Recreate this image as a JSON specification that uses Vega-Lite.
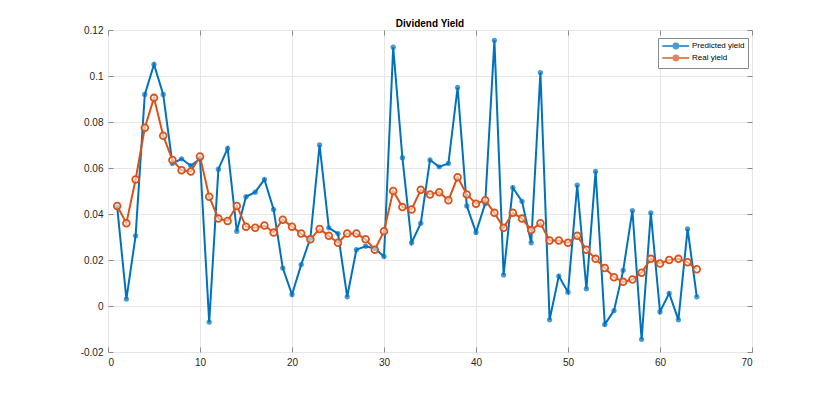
{
  "$schema": "https://vega.github.io/schema/vega-lite/v6.json",
  "autosize": "none",
  "width": 644,
  "height": 322,
  "padding": {"left": 108, "top": 30, "right": 78, "bottom": 43},
  "background": "white",
  "title": {"text": "Dividend Yield", "font": "Liberation Sans", "fontSize": 10, "fontWeight": "bold", "color": "#000000", "offset": -4},
  "config": {
    "view": {"stroke": "#8a8a8a", "strokeWidth": 1},
    "axis": {"labelFont": "Liberation Sans", "labelFontSize": 10, "labelColor": "#262626", "domain": false, "tickColor": "#8a8a8a", "tickSize": -5, "gridColor": "#e6e6e6", "gridWidth": 1, "title": null}
  },
  "data": {"values": [
    {"x":1,"Predicted yield":0.043,"Real yield":0.0435},
    {"x":2,"Predicted yield":0.003,"Real yield":0.036},
    {"x":3,"Predicted yield":0.0305,"Real yield":0.055},
    {"x":4,"Predicted yield":0.092,"Real yield":0.0775},
    {"x":5,"Predicted yield":0.105,"Real yield":0.0905},
    {"x":6,"Predicted yield":0.092,"Real yield":0.074},
    {"x":7,"Predicted yield":0.062,"Real yield":0.0635},
    {"x":8,"Predicted yield":0.064,"Real yield":0.059},
    {"x":9,"Predicted yield":0.061,"Real yield":0.0585},
    {"x":10,"Predicted yield":0.064,"Real yield":0.065},
    {"x":11,"Predicted yield":-0.007,"Real yield":0.0475},
    {"x":12,"Predicted yield":0.0595,"Real yield":0.038},
    {"x":13,"Predicted yield":0.0685,"Real yield":0.037},
    {"x":14,"Predicted yield":0.0325,"Real yield":0.0435},
    {"x":15,"Predicted yield":0.0475,"Real yield":0.0345},
    {"x":16,"Predicted yield":0.0495,"Real yield":0.034},
    {"x":17,"Predicted yield":0.055,"Real yield":0.035},
    {"x":18,"Predicted yield":0.042,"Real yield":0.032},
    {"x":19,"Predicted yield":0.0165,"Real yield":0.0375},
    {"x":20,"Predicted yield":0.005,"Real yield":0.0345},
    {"x":21,"Predicted yield":0.018,"Real yield":0.0315},
    {"x":22,"Predicted yield":0.0295,"Real yield":0.029},
    {"x":23,"Predicted yield":0.07,"Real yield":0.0335},
    {"x":24,"Predicted yield":0.034,"Real yield":0.0305},
    {"x":25,"Predicted yield":0.0315,"Real yield":0.0275},
    {"x":26,"Predicted yield":0.004,"Real yield":0.0315},
    {"x":27,"Predicted yield":0.0245,"Real yield":0.0315},
    {"x":28,"Predicted yield":0.026,"Real yield":0.029},
    {"x":29,"Predicted yield":0.025,"Real yield":0.0245},
    {"x":30,"Predicted yield":0.0215,"Real yield":0.0325},
    {"x":31,"Predicted yield":0.1125,"Real yield":0.05},
    {"x":32,"Predicted yield":0.0645,"Real yield":0.043},
    {"x":33,"Predicted yield":0.0275,"Real yield":0.042},
    {"x":34,"Predicted yield":0.036,"Real yield":0.0505},
    {"x":35,"Predicted yield":0.0635,"Real yield":0.0485},
    {"x":36,"Predicted yield":0.0605,"Real yield":0.0495},
    {"x":37,"Predicted yield":0.062,"Real yield":0.046},
    {"x":38,"Predicted yield":0.095,"Real yield":0.056},
    {"x":39,"Predicted yield":0.0435,"Real yield":0.0485},
    {"x":40,"Predicted yield":0.032,"Real yield":0.0445},
    {"x":41,"Predicted yield":0.0445,"Real yield":0.046},
    {"x":42,"Predicted yield":0.1155,"Real yield":0.0405},
    {"x":43,"Predicted yield":0.0135,"Real yield":0.034},
    {"x":44,"Predicted yield":0.0515,"Real yield":0.0405},
    {"x":45,"Predicted yield":0.0455,"Real yield":0.038},
    {"x":46,"Predicted yield":0.0275,"Real yield":0.033},
    {"x":47,"Predicted yield":0.1015,"Real yield":0.036},
    {"x":48,"Predicted yield":-0.006,"Real yield":0.0285},
    {"x":49,"Predicted yield":0.013,"Real yield":0.0285},
    {"x":50,"Predicted yield":0.006,"Real yield":0.0275},
    {"x":51,"Predicted yield":0.0525,"Real yield":0.0305},
    {"x":52,"Predicted yield":0.0075,"Real yield":0.0245},
    {"x":53,"Predicted yield":0.0585,"Real yield":0.0205},
    {"x":54,"Predicted yield":-0.008,"Real yield":0.0165},
    {"x":55,"Predicted yield":-0.002,"Real yield":0.0125},
    {"x":56,"Predicted yield":0.0155,"Real yield":0.0105},
    {"x":57,"Predicted yield":0.0415,"Real yield":0.0115},
    {"x":58,"Predicted yield":-0.0145,"Real yield":0.0145},
    {"x":59,"Predicted yield":0.0405,"Real yield":0.0205},
    {"x":60,"Predicted yield":-0.0025,"Real yield":0.0185},
    {"x":61,"Predicted yield":0.0055,"Real yield":0.02},
    {"x":62,"Predicted yield":-0.006,"Real yield":0.0205},
    {"x":63,"Predicted yield":0.0335,"Real yield":0.019},
    {"x":64,"Predicted yield":0.004,"Real yield":0.016}
  ]},
  "transform": [{"fold": ["Predicted yield", "Real yield"], "as": ["series", "y"]}],
  "encoding": {
    "color": {"field": "series", "type": "nominal", "scale": {"domain": ["Predicted yield", "Real yield"], "range": ["#0072BD", "#D95319"]},
      "legend": {"orient": "none", "legendX": 550, "legendY": 8, "title": null, "labelFont": "Liberation Sans", "labelFontSize": 8, "labelColor": "#000000", "strokeColor": "#8a8a8a", "fillColor": "white", "padding": 3, "rowPadding": -8, "symbolType": "M-1,0H6.2M2,0a0.65,0.65 0 1,0 1.3,0a0.65,0.65 0 1,0 -1.3,0", "symbolSize": 56, "symbolStrokeWidth": 2, "labelOffset": 21}}
  },
  "layer": [
    {"mark": {"type": "line", "strokeWidth": 2},
     "encoding": {
       "x": {"field": "x", "type": "quantitative", "scale": {"domain": [0, 70], "nice": false}, "axis": {"values": [0,10,20,30,40,50,60,70], "grid": true, "labelPadding": 10}},
       "y": {"field": "y", "type": "quantitative", "scale": {"domain": [-0.02, 0.12], "nice": false, "zero": false}, "axis": {"values": [-0.02,0,0.02,0.04,0.06,0.08,0.1,0.12], "grid": true, "labelPadding": 10, "labelExpr": "datum.value == 0 ? '0' : toString(round(datum.value*100)/100)"}},
       "detail": {"field": "series"}}},
    {"mark": {"type": "point", "filled": true, "size": 28}, "transform": [{"filter": "datum.series == 'Predicted yield'"}],
     "encoding": {
       "x": {"field": "x", "type": "quantitative", "axis": {"orient": "top", "values": [0,10,20,30,40,50,60,70], "labels": false, "grid": false}},
       "y": {"field": "y", "type": "quantitative", "axis": {"orient": "right", "values": [-0.02,0,0.02,0.04,0.06,0.08,0.1,0.12], "labels": false, "grid": false}}}},
    {"mark": {"type": "point", "size": 45, "strokeWidth": 1.8, "fill": "white", "fillOpacity": 0.55}, "transform": [{"filter": "datum.series == 'Real yield'"}],
     "encoding": {
       "x": {"field": "x", "type": "quantitative", "axis": null},
       "y": {"field": "y", "type": "quantitative", "axis": null}}}
  ],
  "resolve": {"axis": {"x": "independent", "y": "independent"}}
}
